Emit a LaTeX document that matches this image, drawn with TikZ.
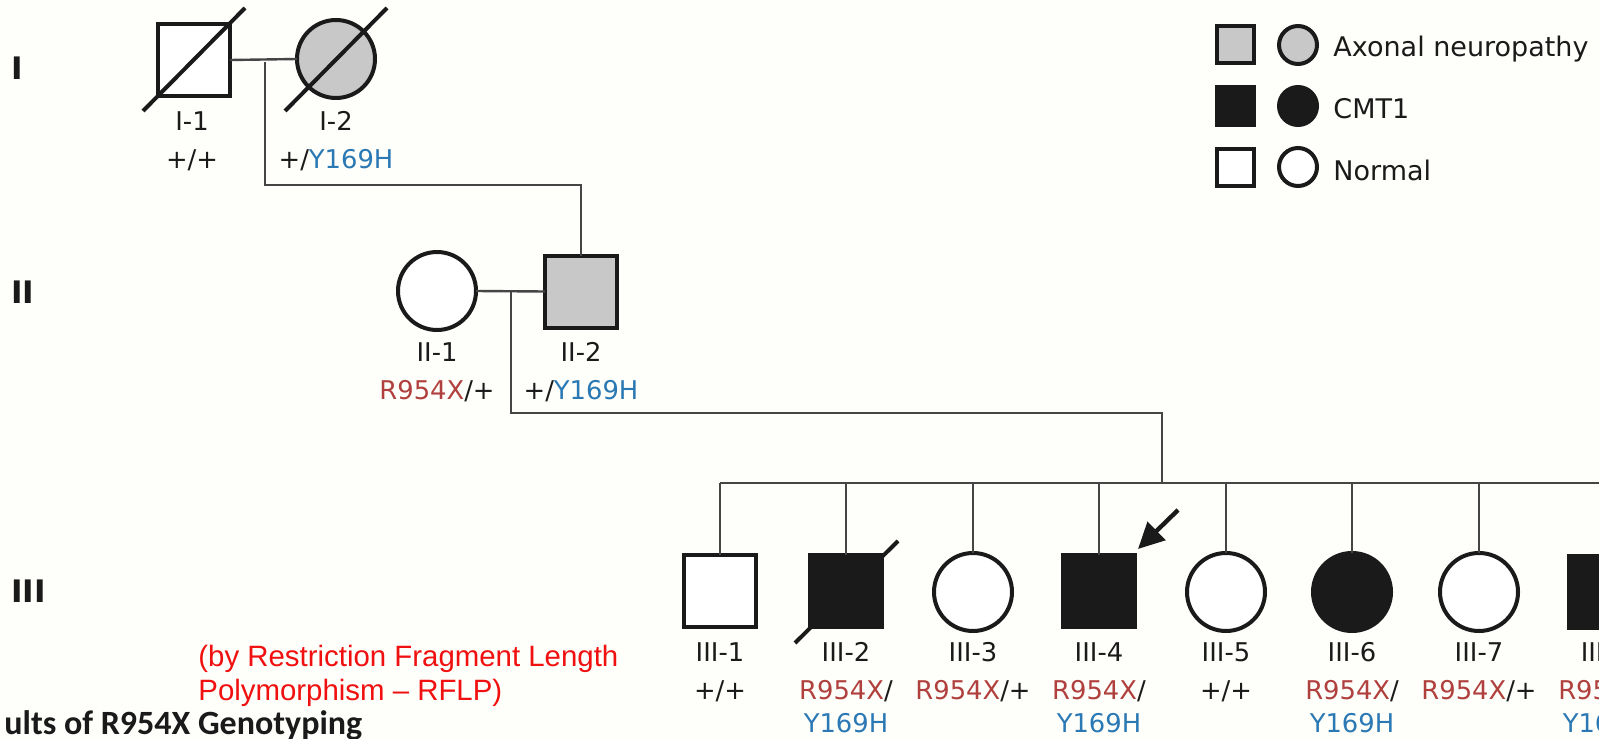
\documentclass[tikz,border=0pt]{standalone}
\usepackage{fontspec}
\setmainfont{DejaVu Sans}
\newfontfamily\arialf{Liberation Sans}
\newfontfamily\calf{Carlito}
\usetikzlibrary{arrows.meta}
\definecolor{bg}{HTML}{FEFEFA}
\definecolor{gred}{HTML}{B0403D}
\definecolor{gblue}{HTML}{2A78B4}
\definecolor{ggrey}{HTML}{C8C8C8}
\definecolor{gblack}{HTML}{1A1A1A}
\definecolor{lnk}{HTML}{454545}
\definecolor{capred}{HTML}{F01010}
\newcommand{\Rx}{\textcolor{gred}{R954X}}
\newcommand{\Yh}{\textcolor{gblue}{Y169H}}
\begin{document}
\begin{tikzpicture}[x=0.5pt,y=-0.5pt,
  sym/.style={draw=gblack,line width=2pt,inner sep=0pt,outer sep=0pt},
  male/.style={sym,rectangle,minimum size=36pt},
  female/.style={sym,circle,minimum size=39pt},
  lmale/.style={sym,rectangle,minimum size=18.5pt},
  lfemale/.style={sym,circle,minimum size=19pt},
  aff/.style={fill=ggrey},
  cmt/.style={fill=gblack},
  norm/.style={fill=white},
  link/.style={draw=lnk,line width=1.2pt},
  dead/.style={draw=gblack,line width=2pt},
  lab/.style={font=\fontsize{12.9}{15}\selectfont,text=gblack,inner sep=0pt,anchor=base},
  leg/.style={font=\fontsize{13.5}{16}\selectfont,text=gblack,inner sep=0pt,anchor=base west},
  genlab/.style={font=\bfseries\fontsize{15.5}{18}\selectfont,text=gblack,inner sep=0pt,anchor=base west},
  capt/.style={font=\arialf\fontsize{14.7}{17}\selectfont,text=capred,inner sep=0pt,anchor=base west},
]
\useasboundingbox (0,0) rectangle (1599,738);
\fill[bg] (0,0) rectangle (1599,738);
\clip (0,0) rectangle (1599,738);

% generation labels
\node[genlab] (gI) at (11,80) {I};
\node[genlab] (gII) at (11,303) {II};
\node[genlab] (gIII) at (11,602) {III};

% generation I
\node[male,norm] (I1) at (194,60) {};
\node[female,aff] (I2) at (336,59) {};
\draw[dead] (143,111) -- (245,8);
\draw[dead] (285,111) -- (387,8);
\node[lab] (I1id) at (192,130) {I-1};
\node[lab] (I1g) at (192,168) {+/+};
\node[lab] (I2id) at (336,130) {I-2};
\node[lab] (I2g) at (336,168) {+/\Yh};

% generation II
\node[female,norm] (II1) at (437,291) {};
\node[male,aff] (II2) at (581,291.5) {};
\node[lab] (II1id) at (437,361) {II-1};
\node[lab] (II1g) at (437,399) {\Rx/+};
\node[lab] (II2id) at (581,361) {II-2};
\node[lab] (II2g) at (581,399) {+/\Yh};

% connectors I
\coordinate (mI) at (265,62);
\coordinate (dI) at (265,185);
\coordinate (dI2) at (581,185);
\draw[link] (I1.east) -- (I2.west);
\draw[link] (mI) -- (dI) -- (dI2) -- (II2.north);

% connectors II
\coordinate (mII) at (511,292);
\coordinate (dII) at (511,413);
\coordinate (dII2) at (1162,413);
\coordinate (sib) at (1162,483);
\coordinate (sibL) at (720,483);
\coordinate (sibR) at (1620,483);
\draw[link] (II1.east) -- (II2.west);
\draw[link] (mII) -- (dII) -- (dII2) -- (sib);
\draw[link] (sibL) -- (sibR);

% generation III
\node[male,norm] (III1) at (720,591) {};
\node[male,cmt] (III2) at (846,591) {};
\node[female,norm] (III3) at (973,592) {};
\node[male,cmt] (III4) at (1099,591) {};
\node[female,norm] (III5) at (1226,592) {};
\node[female,cmt] (III6) at (1352,592) {};
\node[female,norm] (III7) at (1479,592) {};
\node[male,cmt] (III8) at (1605,592) {};
\foreach \n/\x in {III1/720,III2/846,III3/973,III4/1099,III5/1226,III6/1352,III7/1479,III8/1605}{
  \coordinate (t\n) at (\x,483);
  \draw[link] (t\n) -- (\n.north);
}
\draw[dead] (795,643) -- (898,541);
\coordinate (arS) at (1178,510);
\coordinate (arE) at (1138,549);
\draw[draw=gblack,line width=2.2pt,-{Triangle[length=13pt,width=12.5pt]}] (arS) -- (arE);

\node[lab] (III1id) at (720,661) {III-1};
\node[lab] (III1g) at (720,699) {+/+};
\node[lab] (III2id) at (846,661) {III-2};
\node[lab] (III2g) at (846,699) {\Rx/};
\node[lab] (III2h) at (846,732) {\Yh};
\node[lab] (III3id) at (973,661) {III-3};
\node[lab] (III3g) at (973,699) {\Rx/+};
\node[lab] (III4id) at (1099,661) {III-4};
\node[lab] (III4g) at (1099,699) {\Rx/};
\node[lab] (III4h) at (1099,732) {\Yh};
\node[lab] (III5id) at (1226,661) {III-5};
\node[lab] (III5g) at (1226,699) {+/+};
\node[lab] (III6id) at (1352,661) {III-6};
\node[lab] (III6g) at (1352,699) {\Rx/};
\node[lab] (III6h) at (1352,732) {\Yh};
\node[lab] (III7id) at (1479,661) {III-7};
\node[lab] (III7g) at (1479,699) {\Rx/+};
\node[lab] (III8id) at (1605,661) {III-8};
\node[lab] (III8g) at (1605,699) {\Rx/};
\node[lab] (III8h) at (1605,732) {\Yh};

% legend
\node[lmale,aff] (L1s) at (1235,45) {};
\node[lfemale,aff] (L1c) at (1298,45) {};
\node[leg] (L1t) at (1333,57) {Axonal neuropathy};
\node[lmale,cmt] (L2s) at (1235,106) {};
\node[lfemale,cmt] (L2c) at (1298,106) {};
\node[leg] (L2t) at (1333,119) {CMT1};
\node[lmale,norm] (L3s) at (1235,167) {};
\node[lfemale,norm] (L3c) at (1298,167) {};
\node[leg] (L3t) at (1333,180) {Normal};

% captions
\node[capt] (c1) at (198,666) {(by Restriction Fragment Length};
\node[capt] (c2) at (198,700) {Polymorphism – RFLP)};
\node[font=\calf\bfseries\fontsize{17}{20}\selectfont,text=gblack,inner sep=0pt,anchor=base west] (c3) at (4,734) {ults of R954X Genotyping};
\end{tikzpicture}
\end{document}
